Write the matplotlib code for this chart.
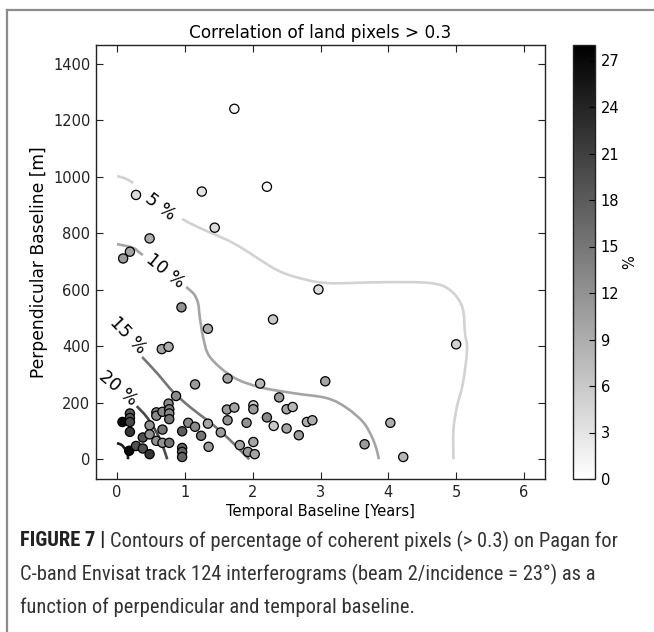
import matplotlib
matplotlib.use("Agg")
import matplotlib.pyplot as plt
from matplotlib import font_manager
from matplotlib.lines import Line2D
from matplotlib.colors import Normalize
from matplotlib.path import Path
from matplotlib.patches import PathPatch
import numpy as np

# ---------------- data ----------------
temporal = [1.73, 0.28, 1.25, 2.21, 1.44, 0.48, 0.19, 0.09, 2.97, 0.95,
            2.30, 1.34, 0.66, 0.76, 5.00, 3.07, 4.03, 3.65, 4.22, 1.15,
            1.63, 2.11, 0.87, 2.39, 2.50, 2.59, 1.62, 1.73, 2.01, 2.01,
            2.80, 2.88, 2.21, 2.31, 2.50, 2.68, 1.91, 1.63, 1.34, 1.05,
            1.15, 1.24, 1.53, 1.35, 1.81, 1.93, 2.01, 2.03, 0.96, 0.96,
            0.96, 0.96, 0.67, 0.58, 0.58, 0.67, 0.76, 0.77, 0.77, 0.77,
            0.08, 0.19, 0.19, 0.19, 0.19, 0.18, 0.28, 0.38, 0.38, 0.48,
            0.48, 0.48, 0.58, 0.67, 0.77]
perpendicular = [1241, 936, 948, 965, 820, 782, 735, 711, 601, 538,
                 495, 462, 390, 398, 407, 276, 129, 53, 8, 265,
                 286, 268, 224, 219, 177, 185, 176, 183, 191, 177,
                 132, 138, 148, 118, 109, 85, 129, 138, 126, 129,
                 115, 83, 95, 44, 50, 26, 61, 18, 99, 40,
                 26, 8, 105, 166, 154, 168, 197, 177, 162, 142,
                 132, 162, 146, 132, 97, 30, 47, 77, 38, 18,
                 120, 88, 65, 58, 58]
percent = [1, 4, 3, 1, 4, 9, 10, 11, 4, 12,
           6, 9, 10, 9, 5, 10, 9, 11, 8, 11,
           10, 8, 13, 11, 10, 8, 11, 10, 6, 11,
           9, 9, 13, 6, 10, 11, 12, 12, 10, 13,
           13, 15, 11, 11, 10, 11, 10, 10, 18, 17,
           17, 17, 15, 13, 13, 13, 13, 14, 13, 15,
           27, 18, 18, 20, 22, 27, 19, 19, 19, 22,
           12, 12, 12, 12, 15]

# contour lines: level -> (x years, y metres)
c5_x = [0.0, 0.24, 0.96, 1.71, 2.36, 2.80, 3.10, 3.44, 3.92, 4.62, 4.91, 5.09, 5.13, 5.16, 5.10, 5.01, 4.96, 4.96]
c5_y = [1003, 978, 851, 766, 670, 635, 624, 624, 627, 624, 599, 539, 447, 386, 269, 184, 103, 0]
c10_x = [0.0, 0.24, 0.38, 1.02, 1.18, 1.22, 1.27, 1.37, 1.71, 2.11, 2.60, 3.10, 3.39, 3.63, 3.76, 3.83, 3.86]
c10_y = [762, 748, 723, 610, 564, 503, 432, 362, 291, 255, 234, 216, 181, 131, 78, 32, 0]
c15_x = [0.37, 0.59, 0.83, 1.08, 1.33, 1.56, 1.77, 1.89, 1.95]
c15_y = [362, 305, 238, 184, 138, 92, 43, 14, 0]
c20_x = [0.29, 0.44, 0.59, 0.68, 0.74]
c20_y = [188, 149, 92, 43, 0]
c25_x = [0.0, 0.07, 0.13, 0.16, 0.16]
c25_y = [57, 50, 32, 14, 0]

contour_levels = [5, 10, 15, 20, 25]
label_text = ["5 %", "10 %", "15 %", "20 %"]
label_x = [0.63, 0.71, 0.16, 0.015]
label_y = [893, 667, 440, 252]
label_rot = [-37, -39, -46, -40]

cbar_ticks = list(range(0, 28, 3))
x_ticks = [0, 1, 2, 3, 4, 5, 6]
y_ticks = [0, 200, 400, 600, 800, 1000, 1200, 1400]

caption_bold = "FIGURE 7 |"
caption_lines = ["Contours of percentage of coherent pixels (> 0.3) on Pagan for",
                 "C-band Envisat track 124 interferograms (beam 2/incidence = 23°) as a",
                 "function of perpendicular and temporal baseline."]

# ---------------- figure ----------------
W, H = 654, 632
fig = plt.figure(figsize=(W / 100, H / 100), dpi=100)
fig.patch.set_facecolor("white")

def fx(px):
    return px / W

def fy(py):
    return 1 - py / H

ax = fig.add_axes([fx(96), fy(479), fx(545) - fx(96), fy(45) - fy(479)])
cax = fig.add_axes([fx(573), fy(479), fx(595) - fx(573), fy(45) - fy(479)])

XL = (-0.31, 6.31)
YL = (-70, 1467)
ax.set_xlim(*XL)
ax.set_ylim(*YL)

cmap = plt.get_cmap("gray_r")
norm = Normalize(vmin=0, vmax=28)

sx = 449.0 / (XL[1] - XL[0])
sy = 434.0 / (YL[1] - YL[0])

def smooth_path(xs, ys, gap=None):
    P = np.column_stack([np.asarray(xs) * sx, np.asarray(ys) * sy])
    n = len(P)
    verts = [P[0]]
    codes = [Path.MOVETO]
    for i in range(n - 1):
        p0 = P[i - 1] if i > 0 else P[i]
        p1 = P[i]
        p2 = P[i + 1]
        p3 = P[i + 2] if i + 2 < n else P[i + 1]
        c1 = p1 + (p2 - p0) / 6.0
        c2 = p2 - (p3 - p1) / 6.0
        if gap is not None and i == gap:
            verts.append(p2)
            codes.append(Path.MOVETO)
            continue
        verts += [c1, c2, p2]
        codes += [Path.CURVE4] * 3
    V = np.array(verts)
    V[:, 0] /= sx
    V[:, 1] /= sy
    return Path(V, codes)

contours = [(c5_x, c5_y, 1), (c10_x, c10_y, 2), (c15_x, c15_y, None),
            (c20_x, c20_y, None), (c25_x, c25_y, None)]
for lev, (cx, cy, g) in zip(contour_levels, contours):
    ax.add_patch(PathPatch(smooth_path(cx, cy, g), fill=False,
                           edgecolor=cmap(norm(lev)), lw=1.9, zorder=1,
                           capstyle="butt"))

for t, lx, ly, r in zip(label_text, label_x, label_y, label_rot):
    ax.text(lx, ly, t, rotation=r, ha="center", va="center", fontsize=12.5,
            rotation_mode="anchor", zorder=2, family="DejaVu Sans")

sc = ax.scatter(temporal, perpendicular, c=percent, cmap=cmap, norm=norm,
                s=44, edgecolors="black", linewidths=0.9, zorder=3)

ax.set_xticks(x_ticks)
ax.set_yticks(y_ticks)
ax.tick_params(direction="in", top=True, right=True, length=5, labelsize=10.5,
               width=0.8, colors="#222222", pad=4)
for sp in ax.spines.values():
    sp.set_linewidth(1.0)
    sp.set_color("#222222")
ax.set_title("Correlation of land pixels > 0.3", fontsize=12.2, pad=5)
ax.set_xlabel("Temporal Baseline [Years]", fontsize=10.5, labelpad=3)
ax.set_ylabel("Perpendicular Baseline [m]", fontsize=12.3, labelpad=4)

cb = fig.colorbar(sc, cax=cax, ticks=cbar_ticks)
cb.outline.set_linewidth(1.0)
cb.outline.set_edgecolor("#222222")
cax.tick_params(direction="in", length=4, labelsize=10.5, width=0.8, pad=4)
cb.set_label("%", fontsize=10.5, labelpad=2)

# page frame
fig.add_artist(Line2D([fx(7), fx(7)], [0, fy(10)], transform=fig.transFigure,
                      color="#8c8c8c", lw=1.6))
fig.add_artist(Line2D([fx(7), 1], [fy(10), fy(10)], transform=fig.transFigure,
                      color="#8c8c8c", lw=1.6))

# caption font: a narrow/condensed sans if one is installed, else Roboto
def pick_caption_font():
    prefs = ["Liberation Sans Narrow", "Roboto Condensed", "Open Sans Condensed",
             "Noto Sans Condensed", "Arial Narrow"]
    names = {f.name for f in font_manager.fontManager.ttflist}
    for p in prefs:
        if p in names:
            return p, "normal"
    for f in font_manager.fontManager.ttflist:
        st = f.stretch
        cond = (isinstance(st, str) and "condensed" in st) or (isinstance(st, (int, float)) and st < 100)
        if cond and f.name in ("Noto Sans", "Open Sans", "Roboto", "Inter"):
            return f.name, "condensed"
    return "Roboto", "normal"

cap_name, cap_stretch = pick_caption_font()
cap_font = [cap_name, "DejaVu Sans"]
renderer = fig.canvas.get_renderer()
probe = fig.text(0, 0, caption_lines[2], fontsize=10, family=cap_font, stretch=cap_stretch)
w3 = probe.get_window_extent(renderer=renderer).width
probe.remove()
cap_size = 10 * 392.0 / w3   # last caption line spans x = 20 .. 412 in the reference

t1 = fig.text(fx(20), fy(541), caption_bold, fontsize=cap_size, weight="bold",
              family=cap_font, stretch=cap_stretch, va="center", color="#222222")
bb = t1.get_window_extent(renderer=renderer)
fig.text((bb.x1 + 5) / W, fy(541), caption_lines[0], stretch=cap_stretch,
         fontsize=cap_size, family=cap_font, va="center", color="#333333")
fig.text(fx(20), fy(574), caption_lines[1], stretch=cap_stretch,
         fontsize=cap_size, family=cap_font, va="center", color="#333333")
fig.text(fx(20), fy(607), caption_lines[2], stretch=cap_stretch,
         fontsize=cap_size, family=cap_font, va="center", color="#333333")

fig.savefig("out.png", dpi=100)
